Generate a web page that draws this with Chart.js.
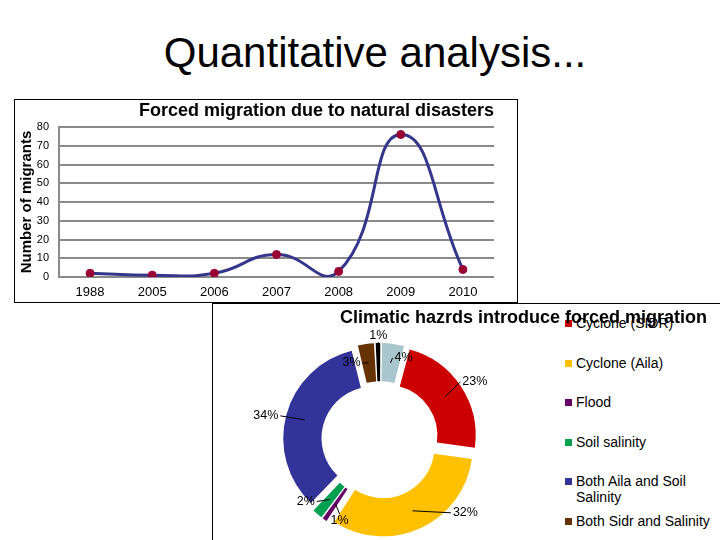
<!DOCTYPE html>
<html>
<head>
<meta charset="utf-8">
<script src="https://cdn.jsdelivr.net/npm/chart.js@4.4.1/dist/chart.umd.min.js"></script>
<style>
  html, body { margin: 0; padding: 0; }
  body {
    width: 720px; height: 540px; overflow: hidden; position: relative;
    background: #fff; font-family: "Liberation Sans", Arial, sans-serif; color: #000;
  }
  #slideTitle {
    position: absolute; left: 0; top: 32px; width: 750px;
    text-align: center; font-size: 42px; line-height: 42px;
  }
  .box { position: absolute; border: 1px solid #000; }
  #lineBox { left: 14px; top: 99px; width: 502px; height: 202px; }
  #pieBox { left: 212px; top: 303px; width: 600px; height: 300px; }
  #lineChart { position: absolute; left: 15px; top: 100px; }
  #pieChart { position: absolute; left: 213px; top: 305px; }
  #pieTitle {
    position: absolute; left: 340px; top: 306px; z-index: 2;
    font-size: 18px; line-height: 22px; font-weight: bold; white-space: nowrap;
  }
  #legend { position: absolute; left: 565px; top: 315px; margin: 0; padding: 0; list-style: none; }
  #legend li { height: 39.6px; display: flex; align-items: flex-start; }
  #legend .mark { width: 7px; height: 7px; margin-top: 5px; flex: none; }
  #legend .txt { width: 145px; margin-left: 4px; font-size: 14px; line-height: 16px; }
</style>
</head>
<body>
<div id="slideTitle">Quantitative analysis...</div>
<div class="box" id="lineBox"></div>
<canvas id="lineChart" width="502" height="202"></canvas>
<div class="box" id="pieBox"></div>
<canvas id="pieChart" width="334" height="270"></canvas>
<ul id="legend"></ul>
<div id="pieTitle">Climatic hazrds introduce forced migration</div>

<script>
// line chart data
const years = ["1988", "2005", "2006", "2007", "2008", "2009", "2010"];
const migrants = [2, 1, 2, 12, 3, 76, 4];

// doughnut data (last two slices are not in the visible legend)
const hazardLabels = [
  "Cyclone (SIDR)",
  "Cyclone (Aila)",
  "Flood",
  "Soil salinity",
  "Both Aila and Soil Salinity",
  "Both Sidr and Salinity",
  "Other",
  "Other hazards",
];
const hazardShare = [23, 32, 1, 2, 34, 3, 1, 4];
const hazardColors = ["#CC0000", "#FFC000", "#660066", "#00A050", "#333399", "#663300", "#000000", "#A9C6CC"];

const FONT = "'Liberation Sans', Arial, sans-serif";
const SLICE_GAP = 8;

new Chart(document.getElementById("lineChart"), {
  type: "line",
  data: {
    labels: years,
    datasets: [
      {
        data: migrants,
        borderColor: "#35358C",
        borderWidth: 3,
        tension: 0.5,
        fill: false,
        pointRadius: 4,
        pointBackgroundColor: "#990033",
        pointBorderColor: "#990033",
        pointBorderWidth: 1,
      },
    ],
  },
  options: {
    responsive: false,
    animation: false,
    layout: { padding: { left: 2, right: 23, top: 0, bottom: 0 } },
    elements: { line: { capBezierPoints: false } },
    plugins: {
      legend: { display: false },
      tooltip: { enabled: false },
      title: {
        display: true,
        text: "Forced migration due to natural disasters",
        align: "end",
        color: "#000",
        font: { family: FONT, size: 18, weight: "bold" },
        padding: { top: 0, bottom: 5.4 },
      },
    },
    scales: {
      x: {
        offset: true,
        grid: { display: false, drawTicks: false },
        border: { display: false },
        ticks: { color: "#000", font: { family: FONT, size: 13 }, padding: 8, maxRotation: 0 },
        afterFit(scale) { scale.height = 25; },
      },
      y: {
        min: 0,
        max: 80,
        ticks: { stepSize: 10, color: "#000", font: { family: FONT, size: 11 }, padding: 10 },
        grid: { color: "#8a8a8a", lineWidth: 2, drawTicks: false },
        border: { color: "#8a8a8a", width: 2 },
        title: {
          display: true,
          text: "Number of migrants",
          color: "#000",
          font: { family: FONT, size: 15, weight: "bold" },
          padding: { top: 1, bottom: 0 },
        },
        afterFit(scale) { scale.width = 42; },
      },
    },
  },
});

// percentage labels with leader lines
const sliceLabels = {
  id: "sliceLabels",
  afterDatasetsDraw(chart, args, opts) {
    const ctx = chart.ctx;
    const meta = chart.getDatasetMeta(0);
    ctx.save();
    ctx.font = opts.font;
    ctx.fillStyle = "#000";
    ctx.strokeStyle = "#000";
    ctx.lineWidth = 1;
    ctx.textAlign = "center";
    ctx.textBaseline = "middle";
    meta.data.forEach((arc, i) => {
      const p = arc.getProps(["x", "y", "startAngle", "endAngle", "innerRadius", "outerRadius"], true);
      const mid = (p.startAngle + p.endAngle) / 2;
      const r = (p.innerRadius + p.outerRadius) / 2 + SLICE_GAP;
      const sx = p.x + Math.cos(mid) * r;
      const sy = p.y + Math.sin(mid) * r;
      const [dx, dy] = opts.shift[i];
      const tx = sx + dx;
      const ty = sy + dy;
      const text = chart.data.datasets[0].data[i] + "%";
      const w = ctx.measureText(text).width;
      let ex, ey;
      if (Math.abs(dx) >= Math.abs(dy)) {
        ex = tx - Math.sign(dx) * (w / 2 + 2);
        ey = ty;
      } else {
        ex = tx;
        ey = ty - Math.sign(dy) * 7;
      }
      ctx.beginPath();
      ctx.moveTo(sx, sy);
      ctx.lineTo(ex, ey);
      ctx.stroke();
      ctx.fillText(text, tx, ty);
    });
    ctx.restore();
  },
};

const hazardTotal = hazardShare.reduce((a, b) => a + b, 0);

new Chart(document.getElementById("pieChart"), {
  type: "doughnut",
  data: {
    labels: hazardLabels,
    datasets: [
      {
        data: hazardShare,
        backgroundColor: hazardColors,
        borderWidth: 0,
        // chart.js shifts an arc by offset/4*(1+fix); keep every slice pulled out by SLICE_GAP
        offset: (c) => {
          const circ = (hazardShare[c.dataIndex] / hazardTotal) * 2 * Math.PI;
          const fix = 1 - Math.sin(Math.min(Math.PI, circ));
          return (SLICE_GAP * 4) / (1 + fix);
        },
      },
    ],
  },
  options: {
    responsive: false,
    animation: false,
    rotation: 15,
    cutout: "57%",
    radius: 89,
    plugins: {
      legend: { display: false },
      tooltip: { enabled: false },
      sliceLabels: {
        font: "12.5px " + FONT,
        shift: [[30, -15], [53, 2], [4, 17], [-24, 2], [-39, -4], [-17, 0], [0, -27], [13, -5]],
      },
    },
  },
  plugins: [sliceLabels],
});

// legend in the slide's style
const legend = document.getElementById("legend");
hazardLabels.forEach((label, i) => {
  const li = document.createElement("li");
  const mark = document.createElement("span");
  mark.className = "mark";
  mark.style.background = hazardColors[i];
  const txt = document.createElement("span");
  txt.className = "txt";
  txt.textContent = label;
  li.appendChild(mark);
  li.appendChild(txt);
  legend.appendChild(li);
});
</script>
</body>
</html>
